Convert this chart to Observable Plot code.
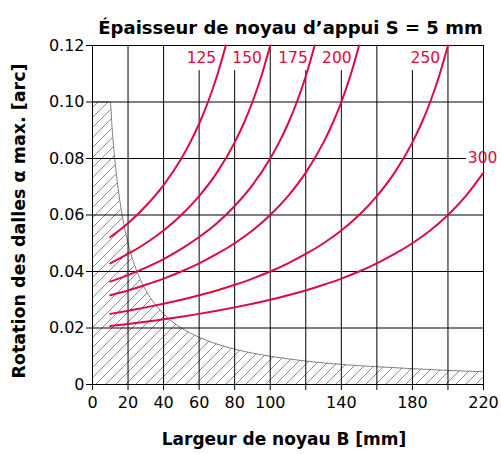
<!DOCTYPE html>
<html>
<head>
<meta charset="utf-8">
<script src="https://cdn.jsdelivr.net/npm/d3@7"></script>
<script src="https://cdn.jsdelivr.net/npm/@observablehq/plot@0.6"></script>
<style>
  html, body { margin: 0; padding: 0; background: #fff; }
</style>
</head>
<body>
<div id="chart"></div>
<script>
// ---- text ----
const titleText = "Épaisseur de noyau d’appui S = 5 mm";
const xTitle = "Largeur de noyau B [mm]";
const yTitle = "Rotation des dalles α max. [arc]";

// ---- axes ----
const xTicks = [0, 20, 40, 60, 80, 100, 120, 140, 160, 180, 200, 220];
const xTickLabels = ["0", "20", "40", "60", "80", "100", "", "140", "", "180", "", "220"];
const yTicks = [0, 0.02, 0.04, 0.06, 0.08, 0.10, 0.12];
const yTickLabels = ["0", "0.02", "0.04", "0.06", "0.08", "0.10", "0.12"];

// ---- hatched (excluded) zone boundary ----
const hatchB = [0, 10, 11, 12, 13, 14, 15, 17, 20, 23, 26, 30, 35, 40, 45, 50, 60, 70, 80, 90, 100, 120, 140, 160, 180, 200, 220];
const hatchV = [0.1, 0.1, 0.0909, 0.0833, 0.0769, 0.0714, 0.0667, 0.0588, 0.05, 0.0435, 0.0385, 0.0333, 0.0286, 0.025, 0.0222, 0.02, 0.0167, 0.0143, 0.0125, 0.0111, 0.01, 0.0083, 0.0071, 0.0063, 0.0056, 0.005, 0.0045];

// ---- curves (one per height H) ----
const series = ["125", "150", "175", "200", "250", "300"];
const curveB = {
  "125": [10, 20, 30, 40, 50, 55, 60, 65, 70, 75],
  "150": [10, 20, 30, 40, 50, 60, 70, 80, 85, 90, 95, 100],
  "175": [10, 20, 30, 40, 50, 60, 70, 80, 90, 100, 105, 110, 115, 120, 125],
  "200": [10, 20, 30, 40, 50, 60, 70, 80, 90, 100, 110, 120, 130, 135, 140, 145, 150],
  "250": [10, 20, 30, 40, 50, 60, 70, 80, 90, 100, 110, 120, 130, 140, 150, 160, 170, 180, 185, 190, 195, 200],
  "300": [10, 20, 30, 40, 50, 60, 70, 80, 90, 100, 110, 120, 130, 140, 150, 160, 170, 180, 190, 200, 210, 220]
};
const curveV = {
  "125": [0.0522, 0.0571, 0.0632, 0.0706, 0.08, 0.0857, 0.0923, 0.1, 0.1091, 0.12],
  "150": [0.0429, 0.0462, 0.05, 0.0545, 0.06, 0.0667, 0.075, 0.0857, 0.0923, 0.1, 0.1091, 0.12],
  "175": [0.0364, 0.0387, 0.0414, 0.0444, 0.048, 0.0522, 0.0571, 0.0632, 0.0706, 0.08, 0.0857, 0.0923, 0.1, 0.1091, 0.12],
  "200": [0.0316, 0.0333, 0.0353, 0.0375, 0.04, 0.0429, 0.0462, 0.05, 0.0545, 0.06, 0.0667, 0.075, 0.0857, 0.0923, 0.1, 0.1091, 0.12],
  "250": [0.025, 0.0261, 0.0273, 0.0286, 0.03, 0.0316, 0.0333, 0.0353, 0.0375, 0.04, 0.0429, 0.0462, 0.05, 0.0545, 0.06, 0.0667, 0.075, 0.0857, 0.0923, 0.1, 0.1091, 0.12],
  "300": [0.0207, 0.0214, 0.0222, 0.0231, 0.024, 0.025, 0.0261, 0.0273, 0.0286, 0.03, 0.0316, 0.0333, 0.0353, 0.0375, 0.04, 0.0429, 0.0462, 0.05, 0.0545, 0.06, 0.0667, 0.075]
};

// ---- curve labels (anchor in data units) ----
const labelB = [61.3, 87, 112.8, 137.5, 187.3, 219.5];
const labelV = [0.1156, 0.1156, 0.1156, 0.1156, 0.1156, 0.0802];

// ---- build tables ----
const hatch = hatchB.map((B, i) => ({B, v: hatchV[i]}));
const curveRows = series.flatMap(H => curveB[H].map((B, i) => ({H, B, v: curveV[H][i]})));
const labels = series.map((H, i) => ({H, B: labelB[i], v: labelV[i]}));
const xLabelOf = new Map(xTicks.map((t, i) => [t, xTickLabels[i]]));
const yLabelOf = new Map(yTicks.map((t, i) => [t, yTickLabels[i]]));

const RED = "#db0a40";

const chart = Plot.plot({
  width: 501,
  height: 454,
  marginLeft: 92,
  marginRight: 18,
  marginTop: 45,
  marginBottom: 70,
  style: {fontFamily: "DejaVu Sans", fontSize: "16px", color: "#000", background: "#fff", overflow: "visible"},
  x: {domain: [0, 220]},
  y: {domain: [0, 0.12]},
  marks: [
    Plot.areaY(hatch, {x: "B", y: "v", fill: "url(#hatch)", curve: "monotone-x"}),
    Plot.lineY(hatch, {x: "B", y: "v", stroke: "#808080", strokeWidth: 1, curve: "monotone-x"}),
    Plot.ruleX(xTicks, {stroke: "#000", strokeWidth: 1}),
    Plot.ruleY(yTicks, {stroke: "#000", strokeWidth: 1}),
    Plot.rect(labels, {x1: d => d.B - 9, x2: d => d.B + 9, y1: d => d.v - 0.0045, y2: d => d.v + 0.0042, fill: "#fff"}),
    Plot.frame({stroke: "#000", strokeWidth: 1}),
    Plot.line(curveRows, {x: "B", y: "v", z: "H", stroke: RED, strokeWidth: 2, curve: "monotone-x"}),
    Plot.text(labels, {x: "B", y: "v", text: "H", fill: RED, fontSize: 15.5}),
    Plot.axisX({ticks: xTicks, tickFormat: d => xLabelOf.get(d), tickSize: 6, tickPadding: 6, label: null, fontSize: 16}),
    Plot.axisY({ticks: yTicks, tickFormat: d => yLabelOf.get(d), tickSize: 6, tickPadding: 2, label: null, fontSize: 16}),
    Plot.text([titleText], {frameAnchor: "top", dy: -24, dx: 2.5, fontWeight: "bold", fontSize: 18}),
    Plot.text([xTitle], {frameAnchor: "bottom", dy: 60, dx: -4, fontWeight: "bold", fontSize: 17}),
    Plot.text([yTitle], {frameAnchor: "left", textAnchor: "middle", dx: -73, dy: 6, rotate: -90, fontWeight: "bold", fontSize: 17.5})
  ]
});

// hatch pattern definition
const svg = d3.select(chart);
const defs = svg.insert("defs", ":first-child");
const pat = defs.append("pattern")
  .attr("id", "hatch")
  .attr("patternUnits", "userSpaceOnUse")
  .attr("width", 10)
  .attr("height", 10);
pat.append("path")
  .attr("d", "M-1,1 l2,-2 M0,10 l10,-10 M9,11 l2,-2")
  .attr("stroke", "#6e6e6e")
  .attr("stroke-width", 0.8)
  .attr("fill", "none");

document.getElementById("chart").appendChild(chart);
</script>
</body>
</html>
